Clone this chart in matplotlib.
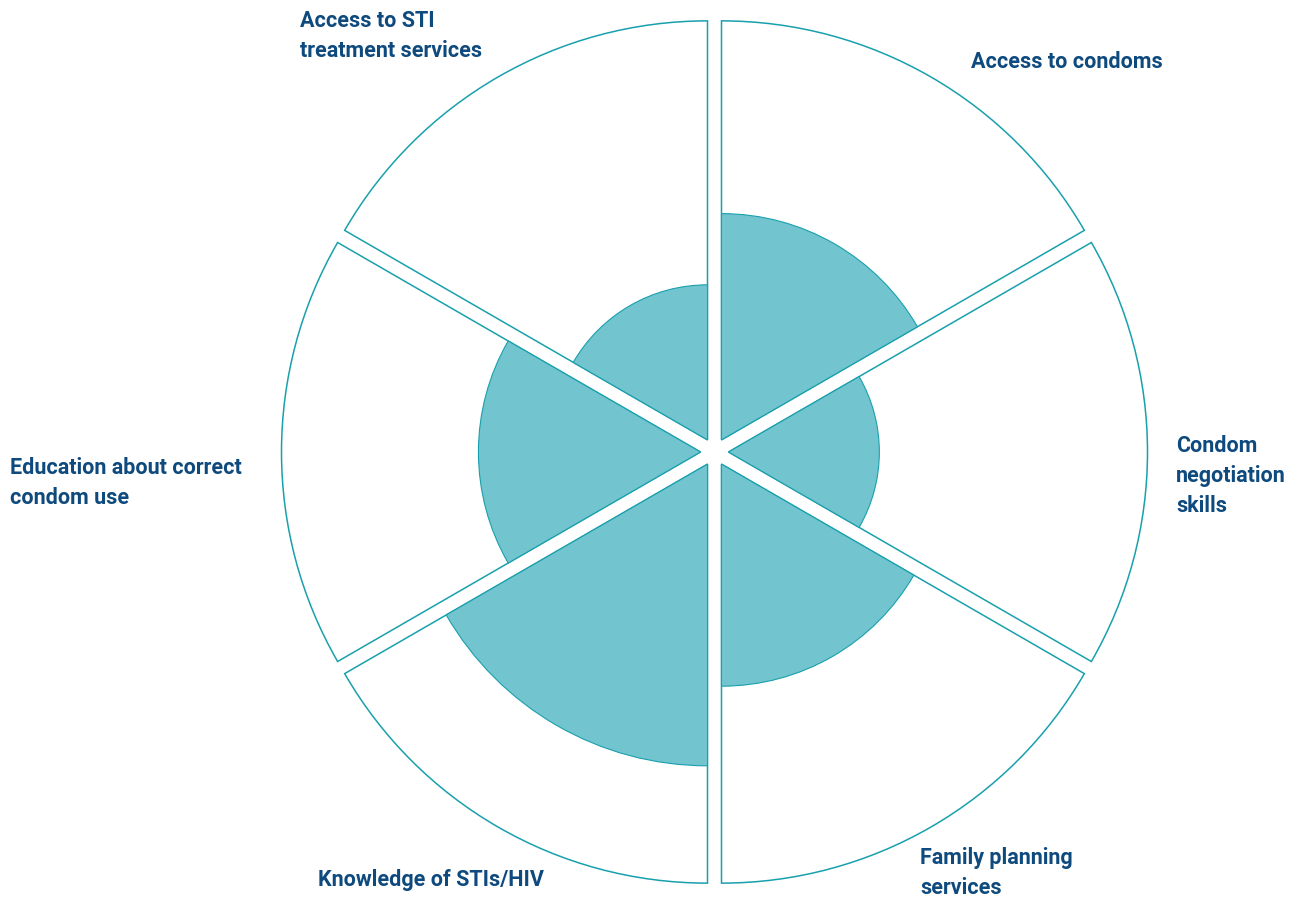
import numpy as np
import matplotlib
matplotlib.use('Agg')
import matplotlib.pyplot as plt
from matplotlib.patches import Wedge

# sectors clockwise from the top
labels = ['Access to condoms',
          'Condom\nnegotiation\nskills',
          'Family planning\nservices',
          'Knowledge of STIs/HIV',
          'Education about correct\ncondom use',
          'Access to STI\ntreatment services']
scores = [5.4, 3.6, 5.3, 7.2, 5.3, 3.7]
max_score = 10.0

fill_col = '#72c4cf'
edge_col = '#19a0ad'
text_col = '#0e4a7d'

W, H = 1289, 902
fig = plt.figure(figsize=(W / 100, H / 100), dpi=100)
ax = fig.add_axes([0, 0, 1, 1])
ax.set_xlim(0, W)
ax.set_ylim(0, H)
ax.set_aspect('equal')
ax.axis('off')

cx, cy = 714.5, H - 452
R = 419
gap = 14
n = len(labels)
step = 360.0 / n

for i, s in enumerate(scores):
    mid = 90 - step / 2 - i * step
    t1, t2 = mid - step / 2, mid + step / 2
    off = (cx + gap * np.cos(np.radians(mid)), cy + gap * np.sin(np.radians(mid)))
    ax.add_patch(Wedge(off, R, t1, t2, facecolor='white', edgecolor=edge_col, lw=1.1))
    ax.add_patch(Wedge(off, R * s / max_score, t1, t2, facecolor=fill_col,
                       edgecolor=edge_col, lw=0.8))

# label anchor points (left edge, vertical centre) in pixel coords
label_pos = [(971, 62), (1176, 476), (920, 873), (318, 880), (10, 483), (300, 36)]
fam = ['Roboto', 'DejaVu Sans']
for lab, (x, y) in zip(labels, label_pos):
    ax.text(x, H - y, lab, ha='left', va='center', fontsize=15.5, fontweight='bold',
            color=text_col, family=fam, linespacing=1.45)

fig.savefig('out.png', dpi=100)
